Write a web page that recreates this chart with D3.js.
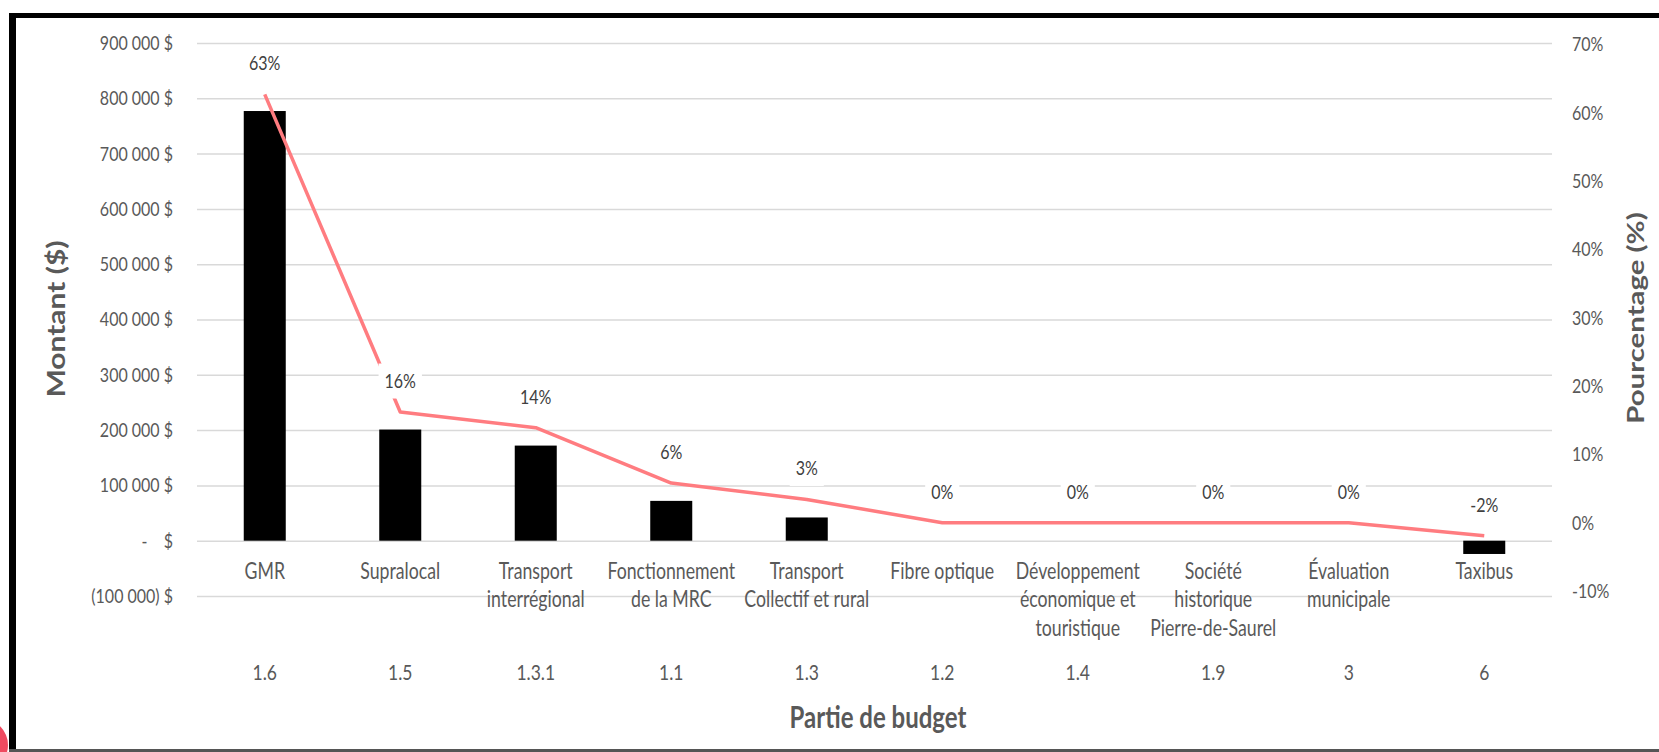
<!DOCTYPE html>
<html>
<head>
<meta charset="utf-8">
<script src="https://cdn.jsdelivr.net/npm/d3@7"></script>
<style>
  body { margin: 0; background: #fff; }
  text { font-family: Lato, "Open Sans", sans-serif; }
</style>
</head>
<body>
<script>
  // categories (wrapped the way they appear under the bars)
  var categories = [
    ["GMR"],
    ["Supralocal"],
    ["Transport", "interrégional"],
    ["Fonctionnement", "de la MRC"],
    ["Transport", "Collectif et rural"],
    ["Fibre optique"],
    ["Développement", "économique et", "touristique"],
    ["Société", "historique", "Pierre-de-Saurel"],
    ["Évaluation", "municipale"],
    ["Taxibus"]
  ];
  var codes = ["1.6", "1.5", "1.3.1", "1.1", "1.3", "1.2", "1.4", "1.9", "3", "6"];
  var amounts = [777000, 201000, 172000, 72000, 42000, 0, 0, 0, 0, -24000];
  var percents = [62.7, 16.2, 13.9, 5.8, 3.4, 0, 0, 0, 0, -1.9];
  var amountTicks = [-100000, 0, 100000, 200000, 300000, 400000, 500000, 600000, 700000, 800000, 900000];
  var percentTicks = [-10, 0, 10, 20, 30, 40, 50, 60, 70];

  var w = 1659;
  var h = 752;
  var stretch = 1.25;   // the source image is squashed tall

  var plot = { left: 197, right: 1552, top: 43, bottom: 596 };

  var svg = d3.select("body").append("svg")
    .attr("width", w)
    .attr("height", h);

  svg.append("rect").attr("width", w).attr("height", h).attr("fill", "#fff");

  var x = d3.scaleBand()
    .domain(d3.range(categories.length))
    .range([plot.left, plot.right])
    .paddingInner(0.69)
    .paddingOuter(0.345);

  var yLeft = d3.scaleLinear()
    .domain([-100000, 900000])
    .range([plot.bottom, plot.top]);

  var yRight = d3.scaleLinear()
    .domain([-10, 70])
    .range([591, 44.5]);

  function cx(i) { return x(i) + x.bandwidth() / 2; }

  function money(v) {
    if (v === 0) return "-\u00a0\u00a0\u00a0\u00a0$";
    var s = d3.format(",")(Math.abs(v)).replace(/,/g, "\u00a0");
    return v < 0 ? "(" + s + ")\u00a0$" : s + "\u00a0$";
  }

  // gridlines
  svg.append("g")
    .attr("transform", "translate(" + plot.left + ",0)")
    .call(d3.axisLeft(yLeft).tickValues(amountTicks).tickSize(-(plot.right - plot.left)).tickFormat(""))
    .call(function(g) {
      g.select(".domain").remove();
      g.selectAll("line").attr("stroke", "#d9d9d9").attr("stroke-width", 1.5);
    });

  // left axis labels
  svg.append("g")
    .attr("transform", "translate(" + plot.left + ",0)")
    .call(d3.axisLeft(yLeft).tickValues(amountTicks).tickSize(0).tickPadding(24).tickFormat(money))
    .call(function(g) {
      g.select(".domain").remove();
      g.selectAll("text")
        .attr("fill", "#595959")
        .style("font-size", "16px")
        .attr("transform", "scale(1," + stretch + ")");
    });

  // right axis labels
  svg.append("g")
    .attr("transform", "translate(1572,0)")
    .call(d3.axisRight(yRight).tickValues(percentTicks).tickSize(0).tickPadding(0).tickFormat(function(d) { return d + "%"; }))
    .call(function(g) {
      g.select(".domain").remove();
      g.selectAll("text")
        .attr("fill", "#595959")
        .style("font-size", "16px")
        .attr("transform", "scale(1," + stretch + ")");
    });

  // bars
  svg.selectAll(".bar")
    .data(amounts)
    .enter()
      .append("rect")
      .classed("bar", true)
      .attr("x", function(d, i) { return x(i); })
      .attr("width", x.bandwidth())
      .attr("y", function(d) { return yLeft(Math.max(0, d)); })
      .attr("height", function(d) { return Math.abs(yLeft(d) - yLeft(0)); })
      .attr("fill", "#000");

  // percentage line
  var line = d3.line()
    .x(function(d, i) { return cx(i); })
    .y(function(d) { return yRight(d); });

  svg.append("path")
    .datum(percents)
    .attr("d", line)
    .attr("fill", "none")
    .attr("stroke", "#ff7c80")
    .attr("stroke-width", 3.5)
    .attr("stroke-linejoin", "round");

  // data labels
  var labels = svg.selectAll(".dlabel")
    .data(percents)
    .enter()
      .append("g")
      .classed("dlabel", true)
      .attr("transform", function(d, i) {
        return "translate(" + cx(i) + "," + (yRight(d) - 31) + ") scale(1," + stretch + ")";
      });

  labels.append("text")
    .attr("text-anchor", "middle")
    .attr("dy", "0.35em")
    .attr("fill", "#404040")
    .style("font-size", "16px")
    .text(function(d) { return Math.round(d) + "%"; });

  labels.insert("rect", "text")
    .each(function() {
      var b = this.parentNode.querySelector("text").getBBox();
      d3.select(this)
        .attr("x", b.x - 6)
        .attr("y", -14)
        .attr("width", b.width + 12)
        .attr("height", 28)
        .attr("fill", "#fff");
    });

  // category labels
  var cat = svg.selectAll(".cat")
    .data(categories)
    .enter()
      .append("g")
      .classed("cat", true);

  cat.selectAll("text")
    .data(function(d, i) { return d.map(function(s, j) { return { s: s, i: i, j: j }; }); })
    .enter()
      .append("text")
      .attr("text-anchor", "middle")
      .attr("dy", "0.35em")
      .attr("fill", "#595959")
      .style("font-size", "17.7px")
      .attr("transform", function(d) {
        return "translate(" + cx(d.i) + "," + (571 + d.j * 28.5) + ") scale(1," + stretch + ")";
      })
      .text(function(d) { return d.s; });

  svg.selectAll(".code")
    .data(codes)
    .enter()
      .append("text")
      .classed("code", true)
      .attr("text-anchor", "middle")
      .attr("dy", "0.35em")
      .attr("fill", "#595959")
      .style("font-size", "17.5px")
      .attr("transform", function(d, i) {
        return "translate(" + cx(i) + ",672) scale(1," + stretch + ")";
      })
      .text(function(d) { return d; });

  // axis titles
  svg.append("text")
    .attr("text-anchor", "middle")
    .attr("dy", "0.35em")
    .attr("fill", "#595959")
    .style("font-size", "24px")
    .style("font-weight", "bold")
    .attr("transform", "translate(57,319) rotate(-90) scale(" + stretch + ",1)")
    .text("Montant ($)");

  svg.append("text")
    .attr("text-anchor", "middle")
    .attr("dy", "0.35em")
    .attr("fill", "#595959")
    .style("font-size", "23.5px")
    .style("font-weight", "bold")
    .attr("transform", "translate(1636,318) rotate(-90) scale(" + stretch + ",1)")
    .text("Pourcentage (%)");

  svg.append("text")
    .attr("text-anchor", "middle")
    .attr("dy", "0.35em")
    .attr("fill", "#595959")
    .style("font-size", "24px")
    .style("font-weight", "bold")
    .attr("transform", "translate(878,717) scale(1," + stretch + ")")
    .text("Partie de budget");

  // frame around the chart
  svg.append("rect").attr("x", 9).attr("y", 13).attr("width", w - 9).attr("height", 5).attr("fill", "#000");
  svg.append("rect").attr("x", 9).attr("y", 13).attr("width", 7).attr("height", h - 13).attr("fill", "#000");
  svg.append("rect").attr("x", 9).attr("y", 749).attr("width", w - 9).attr("height", 3).attr("fill", "#555");

  // red dot cut by the left edge
  svg.append("circle").attr("cx", -18).attr("cy", 745).attr("r", 26).attr("fill", "#ef4a60");
</script>
</body>
</html>
